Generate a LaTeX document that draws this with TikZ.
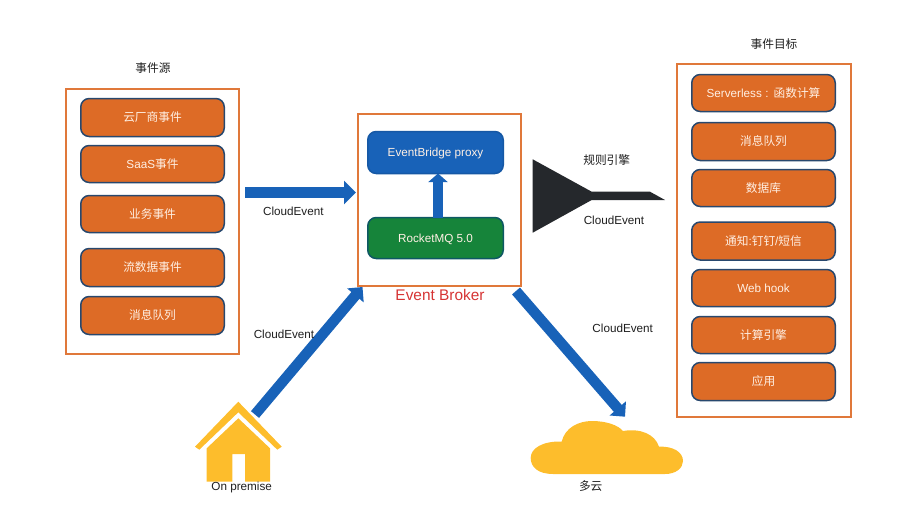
\documentclass[tikz,border=0pt]{standalone}
\usepackage{fontspec}
\setmainfont{Liberation Sans}
\newfontfamily\cjk{Noto Sans CJK SC}
\usetikzlibrary{arrows.meta,calc}
\definecolor{panelc}{RGB}{224,120,58}
\definecolor{itemc}{RGB}{221,107,38}
\definecolor{itemb}{RGB}{40,72,110}
\definecolor{bluec}{RGB}{24,98,184}
\definecolor{blueb}{RGB}{22,88,165}
\definecolor{greenc}{RGB}{22,132,58}
\definecolor{greenb}{RGB}{14,88,100}
\definecolor{yellowc}{RGB}{253,189,44}
\definecolor{darkc}{RGB}{37,40,44}
\definecolor{redc}{RGB}{214,52,52}
\definecolor{labelc}{RGB}{30,30,30}
\definecolor{itemt}{RGB}{255,240,228}
\tikzset{
  panel/.style={draw=panelc,line width=1.6pt,fill=white,inner sep=0pt,outer sep=0pt},
  boxbase/.style={rounded corners=8.5pt,line width=1.5pt,inner sep=0pt,outer sep=0pt,text height=10pt,text depth=1.2pt,font=\fontsize{11.7}{14}\selectfont},
  item/.style={boxbase,draw=itemb,fill=itemc,text=itemt,minimum width=143.5pt},
  bluebox/.style={boxbase,draw=blueb,fill=bluec,text=itemt,minimum width=135.5pt},
  greenbox/.style={boxbase,draw=greenb,fill=greenc,text=itemt,minimum width=135.5pt},
  lab/.style={inner sep=0pt,text=labelc,text height=10pt,text depth=1.2pt,font=\fontsize{11.7}{14}\selectfont},
  flow/.style={draw=bluec,line width=#1},
  flow/.default=9pt
}
\begin{document}
\begin{tikzpicture}[x=1pt,y=-1pt]
\useasboundingbox (0,0) rectangle (918,515);
% panels
\node[panel,minimum width=173pt,minimum height=265pt] (src) at (152.5,221.5) {};
\node[panel,minimum width=163pt,minimum height=172pt] (broker) at (439.5,200) {};
\node[panel,minimum width=174pt,minimum height=353pt] (tgt) at (764,240.5) {};
% source items
\node[item,minimum height=38pt] (s1) at (152.5,117.5) {\cjk 云厂商事件};
\node[item,minimum height=37pt] (s2) at (152.5,164) {SaaS{\cjk 事件}};
\node[item,minimum height=37pt] (s3) at (152.5,214) {\cjk 业务事件};
\node[item,minimum height=38pt] (s4) at (152.5,267.5) {\cjk 流数据事件};
\node[item,minimum height=38pt] (s5) at (152.5,315.5) {\cjk 消息队列};
% target items
\node[item,minimum height=37pt] (t1) at (763.5,93) {Serverless\hspace{3.5pt}:\hspace{5pt}{\cjk 函数计算}};
\node[item,minimum height=38pt] (t2) at (763.5,141.5) {\cjk 消息队列};
\node[item,minimum height=37pt] (t3) at (763.5,188) {\cjk 数据库};
\node[item,minimum height=38pt] (t4) at (763.5,241) {{\cjk 通知}:{\cjk 钉钉}/{\cjk 短信}};
\node[item,minimum height=37pt] (t5) at (763.5,288) {Web hook};
\node[item,minimum height=37pt] (t6) at (763.5,335) {\cjk 计算引擎};
\node[item,minimum height=38pt] (t7) at (763.5,381.5) {\cjk 应用};
% broker items
\node[bluebox,minimum height=42pt] (proxy) at (435.5,152.5) {EventBridge proxy};
\node[greenbox,minimum height=41pt] (rmq) at (435.5,238) {RocketMQ 5.0};
% dark funnel
\fill[darkc] (532.7,159.3) -- (591.7,191.7) -- (650,191.7) -- (665,200) -- (591.7,200) -- (532.7,232.7) -- cycle;
% house
\fill[yellowc] (238.3,401.7) -- (281.7,446.7) -- (277.3,449.7) -- (238.3,412.3) -- (199.3,449.7) -- (195,446.7) -- cycle;
\fill[yellowc] (238.3,418.3) -- (270,448.3) -- (270,481.5) -- (245,481.5) -- (245,454) -- (232.3,454) -- (232.3,481.5) -- (206.7,481.5) -- (206.7,448.3) -- cycle;
\coordinate (houseport) at (255,414.5);
% cloud
\fill[yellowc] (553,474) .. controls (538,474) and (530.7,467) .. (530.7,458)
  .. controls (530.7,448) and (543,441) .. (561.7,441.5)
  .. controls (565,428) and (578,421) .. (592,421)
  .. controls (606,421) and (618,425) .. (623,431)
  .. controls (640,428) and (655,434) .. (659,446.7)
  .. controls (673,446) and (683,452) .. (683,461)
  .. controls (683,468) and (676,474) .. (665,474) -- cycle;
\coordinate (cloudport) at (625,416.7);
% connectors
\draw[flow=11pt,-{Triangle[length=12pt,width=23pt]}] ($(src.north east)+(6,103.5)$) -- ($(broker.north west)+(-2,78.5)$);
\draw[flow=9.3pt,-{Triangle[length=8.7pt,width=19.3pt]}] ([xshift=2.5pt]rmq.north) -- ([xshift=2.5pt]proxy.south);
\draw[flow=10.5pt,-{Triangle[length=11pt,width=21pt]}] (houseport) -- ($(broker.south west)+(4.5,1)$);
\draw[flow=10.5pt,-{Triangle[length=11pt,width=21pt]}] ($(broker.south east)+(-5,5)$) -- (cloudport);
% labels
\node[lab] (lsrc) at (153,67.7) {\cjk 事件源};
\node[lab] (ltgt) at (774,44) {\cjk 事件目标};
\node[lab] (lc1) at (293.3,210.7) {CloudEvent};
\node[lab] (lc2) at (284,334.3) {CloudEvent};
\node[lab] (lc3) at (614,219.7) {CloudEvent};
\node[lab] (lc4) at (622.7,327.7) {CloudEvent};
\node[lab] (lrule) at (606.7,160) {\cjk 规则引擎};
\node[lab] (lprem) at (241.7,485.7) {On premise};
\node[lab] (lmulti) at (590.7,486) {\cjk 多云};
\node[inner sep=0pt,text=redc,font=\fontsize{15.4}{18}\selectfont] (lbroker) at (440,295) {Event Broker};
\end{tikzpicture}
\end{document}
